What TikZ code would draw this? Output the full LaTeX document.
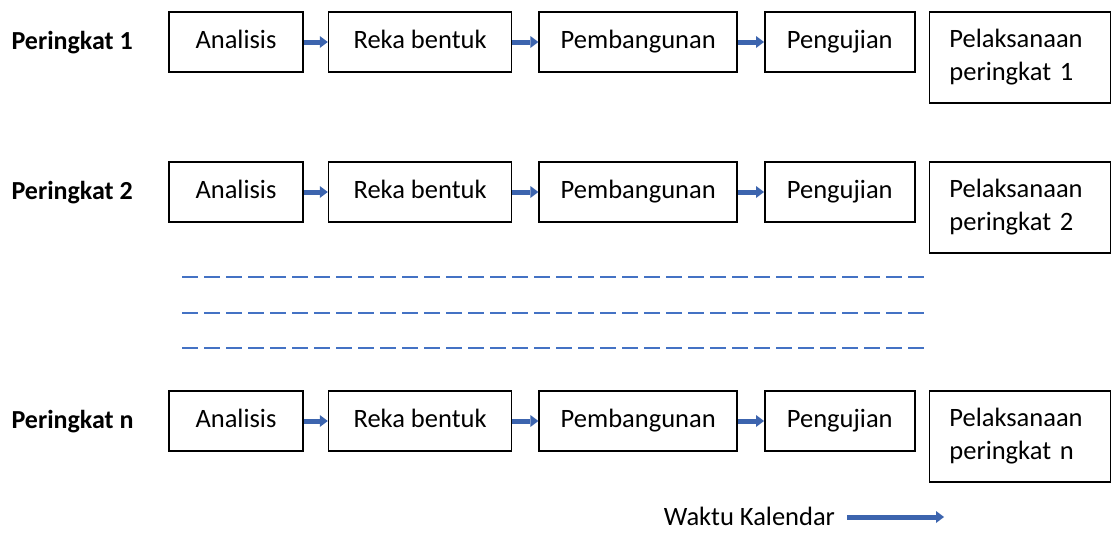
\documentclass[tikz,border=0pt]{standalone}
\usepackage{fontspec}
\setmainfont{Carlito}
\usetikzlibrary{positioning,arrows.meta}
\definecolor{barblue}{HTML}{3C64AE}
\definecolor{dashblue}{HTML}{4472C4}

\begin{document}
\begin{tikzpicture}
    [
    x = 1pt, y = -1pt,
    every node/.style = {font = \fontsize{26.5}{33}\selectfont},
    ]
    \tikzstyle{stage box}=[rectangle,draw,line width=1.6pt,minimum height=60pt,inner sep=0pt,text height=17pt,text depth=5pt]
    \tikzstyle{release box}=[rectangle,draw,line width=1.6pt,minimum height=91pt,inner xsep=20pt,text width=141pt,align=left]
    \tikzstyle{row label}=[anchor=west,text height=17pt,text depth=5pt,font=\fontsize{26}{33}\selectfont\bfseries]
    \tikzstyle{flow arrow}=[barblue,line width=5pt,-{Triangle[length=8pt,width=12pt,line width=0pt]}]
    \tikzstyle{dash line}=[dashblue,line width=2pt,dash pattern=on 16pt off 6pt]

    \useasboundingbox (0,0) rectangle (1114,533);

    % Peringkat 1
    \node[row label] (lbl1) at (8,43) {Peringkat 1};
    \node[stage box, minimum width=134pt] (an1) at (236,42) {Analisis};
    \node[stage box, minimum width=183pt, right=24pt of an1] (rb1) {Reka bentuk};
    \node[stage box, minimum width=198pt, right=26pt of rb1] (pb1) {Pembangunan};
    \node[stage box, minimum width=150pt, right=26pt of pb1] (pu1) {Pengujian};
    \node[release box, below right=0pt and 13pt of pu1.north east] (pl1) {Pelaksanaan\\peringkat 1};
    \draw[flow arrow] (an1) -- (rb1);
    \draw[flow arrow] (rb1) -- (pb1);
    \draw[flow arrow] (pb1) -- (pu1);

    % Peringkat 2
    \node[row label] (lbl2) at (8,193) {Peringkat 2};
    \node[stage box, minimum width=134pt] (an2) at (236,192) {Analisis};
    \node[stage box, minimum width=183pt, right=24pt of an2] (rb2) {Reka bentuk};
    \node[stage box, minimum width=198pt, right=26pt of rb2] (pb2) {Pembangunan};
    \node[stage box, minimum width=150pt, right=26pt of pb2] (pu2) {Pengujian};
    \node[release box, below right=0pt and 13pt of pu2.north east] (pl2) {Pelaksanaan\\peringkat 2};
    \draw[flow arrow] (an2) -- (rb2);
    \draw[flow arrow] (rb2) -- (pb2);
    \draw[flow arrow] (pb2) -- (pu2);

    % garis putus-putus
    \coordinate (ds1) at (182,277);  \coordinate (de1) at (924,277);
    \coordinate (ds2) at (182,313);  \coordinate (de2) at (924,313);
    \coordinate (ds3) at (182,348);  \coordinate (de3) at (924,348);
    \draw[dash line] (ds1) -- (de1);
    \draw[dash line] (ds2) -- (de2);
    \draw[dash line] (ds3) -- (de3);

    % Peringkat n
    \node[row label] (lbln) at (8,422) {Peringkat n};
    \node[stage box, minimum width=134pt] (ann) at (236,421) {Analisis};
    \node[stage box, minimum width=183pt, right=24pt of ann] (rbn) {Reka bentuk};
    \node[stage box, minimum width=198pt, right=26pt of rbn] (pbn) {Pembangunan};
    \node[stage box, minimum width=150pt, right=26pt of pbn] (pun) {Pengujian};
    \node[release box, below right=0pt and 13pt of pun.north east] (pln) {Pelaksanaan\\peringkat n};
    \draw[flow arrow] (ann) -- (rbn);
    \draw[flow arrow] (rbn) -- (pbn);
    \draw[flow arrow] (pbn) -- (pun);

    % Waktu Kalendar
    \node[anchor=east] (waktu) at (838.5,516) {Waktu Kalendar};
    \coordinate (wend) at (944,517);
    \draw[flow arrow] ([xshift=8.5pt,yshift=-1pt]waktu.east) -- (wend);
\end{tikzpicture}
\end{document}
